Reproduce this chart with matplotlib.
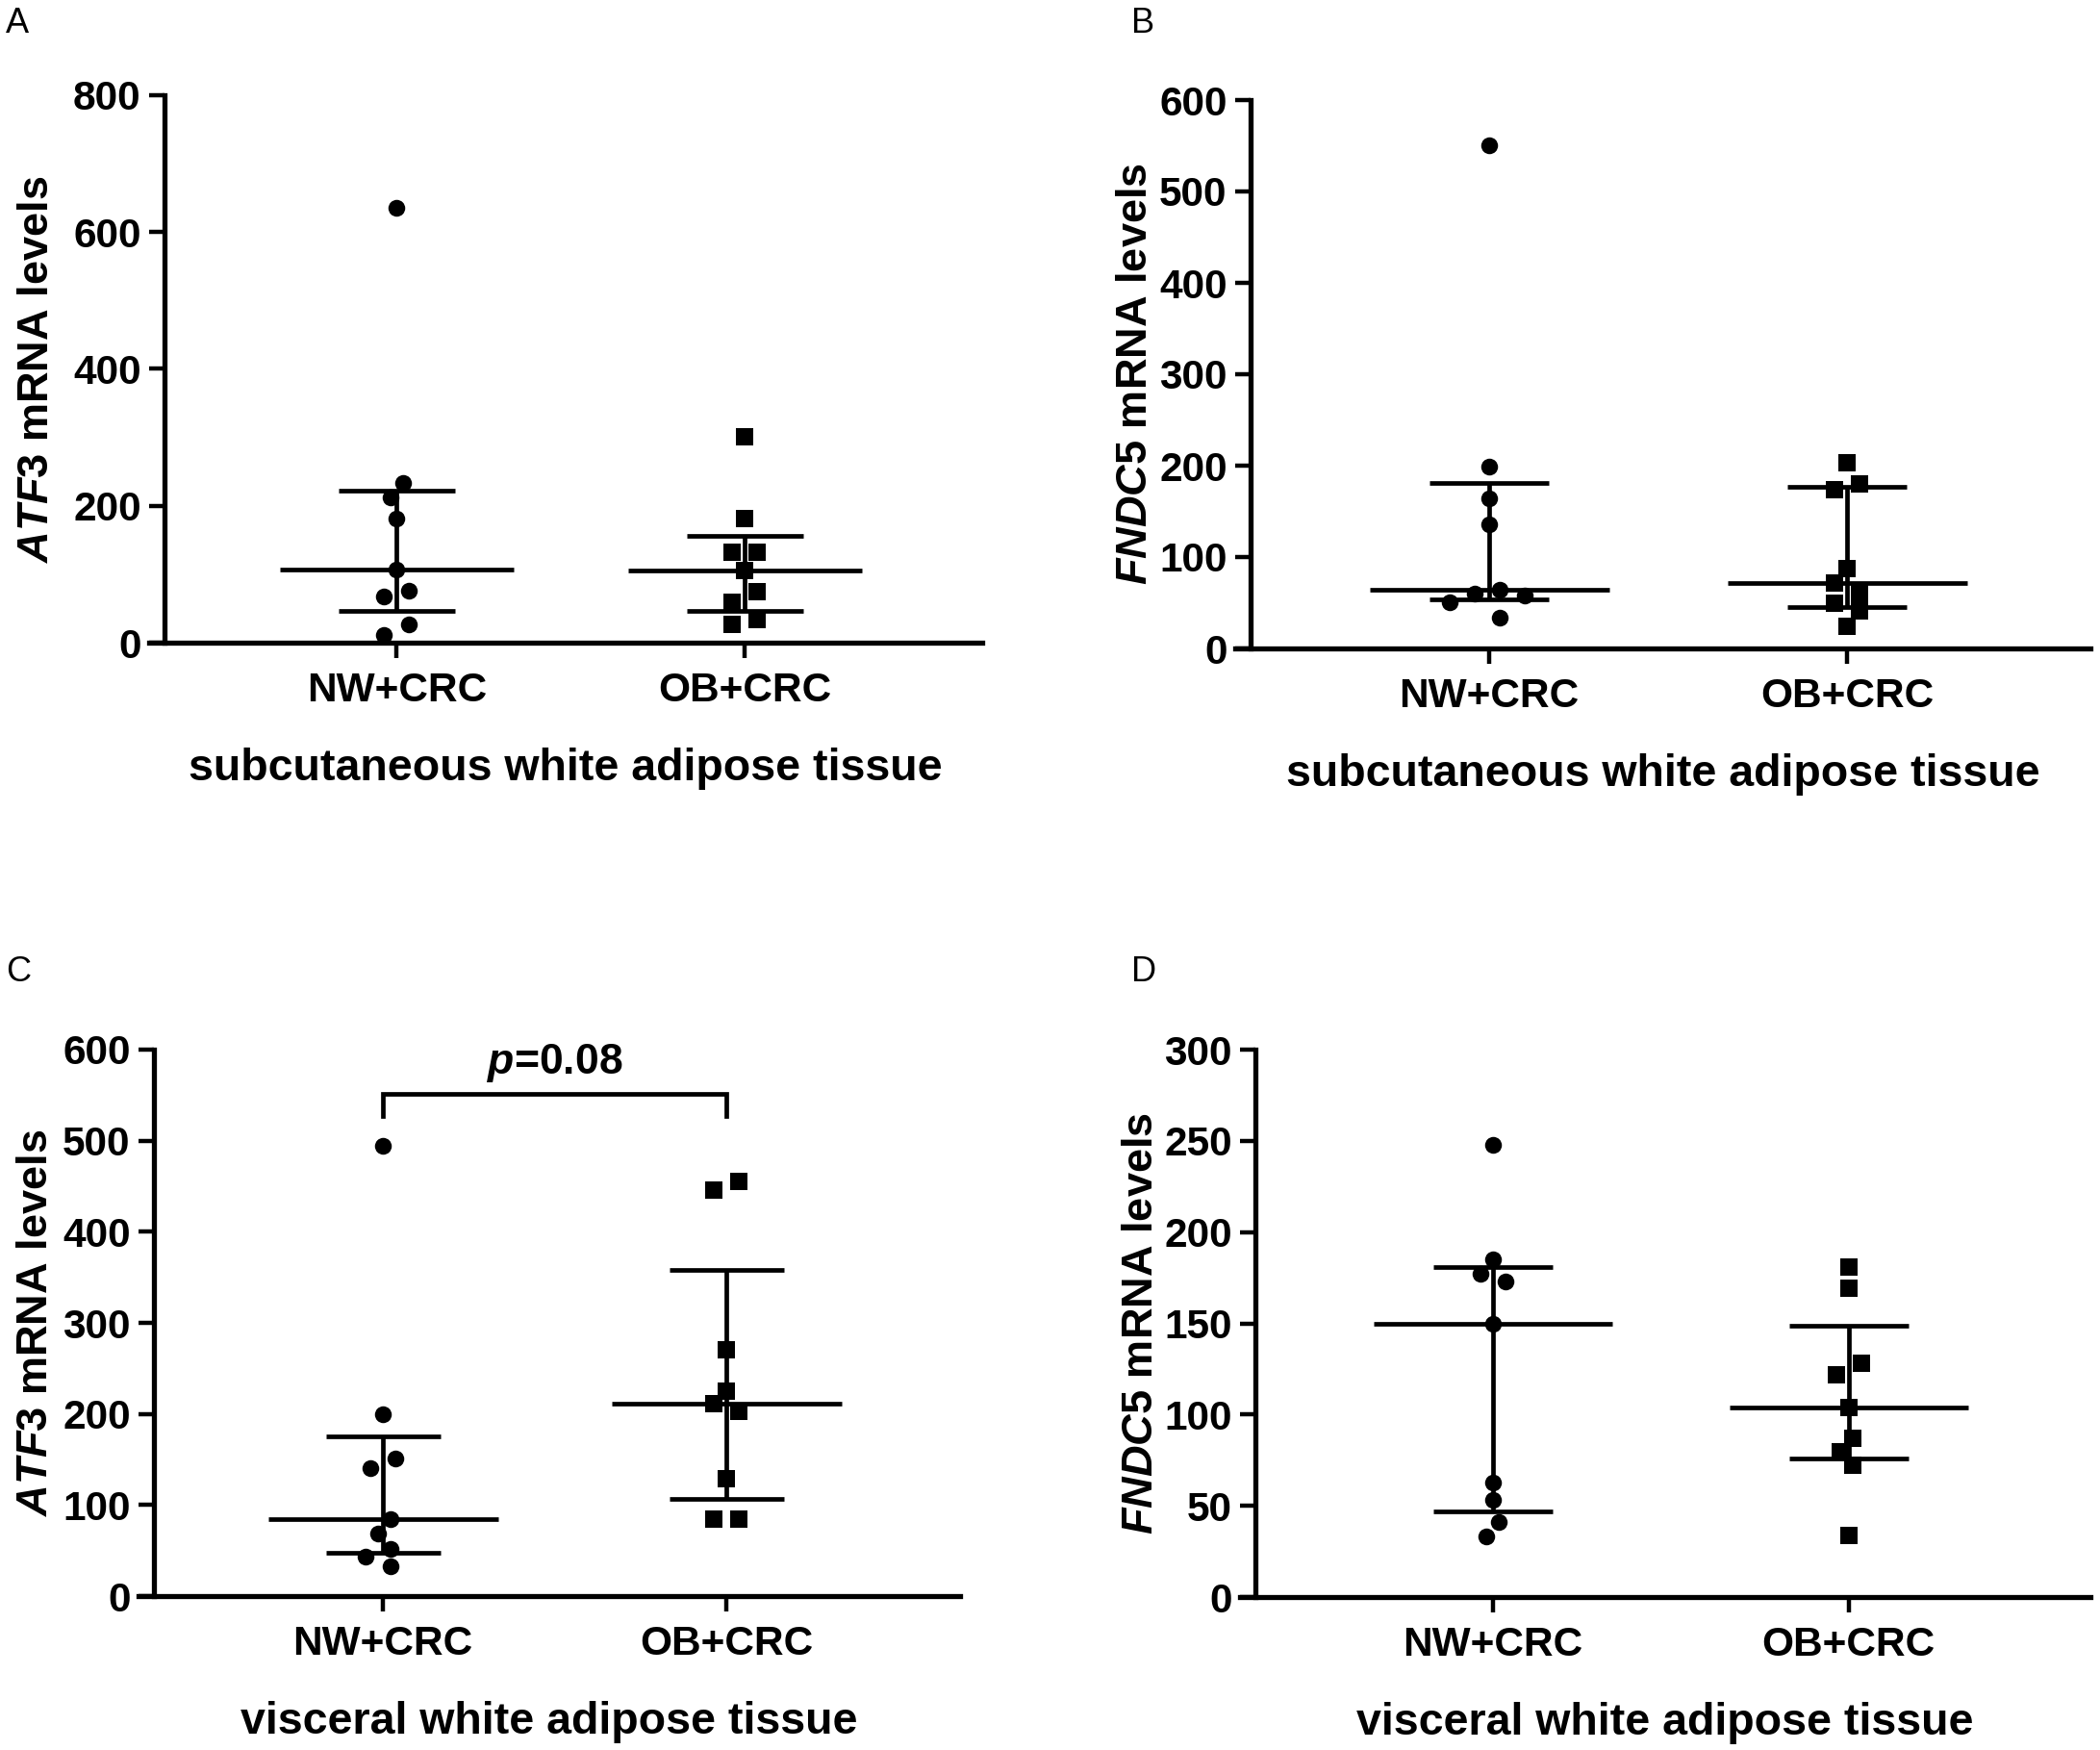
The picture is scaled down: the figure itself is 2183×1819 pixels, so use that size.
import numpy as np
import matplotlib
matplotlib.use("Agg")
import matplotlib.pyplot as plt

plt.rcParams['mathtext.fontset'] = 'custom'
plt.rcParams['mathtext.it'] = 'Liberation Sans:italic:bold'
plt.rcParams['mathtext.rm'] = 'Liberation Sans:bold'
plt.rcParams['mathtext.bf'] = 'Liberation Sans:bold'

FONT = ['Liberation Sans', 'DejaVu Sans']

groups = ["NW+CRC", "OB+CRC"]

# A  ATF3, subcutaneous WAT
atf3_sc_nw = [635, 233, 212, 181, 107, 76, 67, 27, 11]
atf3_sc_ob = [301, 181, 132, 132, 105, 75, 59, 34, 27]
# B  FNDC5, subcutaneous WAT
fndc5_sc_nw = [551, 199, 164, 136, 64, 58, 60, 50, 34]
fndc5_sc_ob = [203, 180, 174, 87, 72, 60, 49, 41, 24]
# C  ATF3, visceral WAT
atf3_vis_nw = [494, 200, 151, 141, 84, 69, 52, 43, 33]
atf3_vis_ob = [455, 446, 270, 225, 211, 203, 129, 84, 84]
# D  FNDC5, visceral WAT
fndc5_vis_nw = [248, 185, 177, 173, 150, 63, 53, 41, 33]
fndc5_vis_ob = [181, 169, 128, 122, 104, 87, 79.5, 72, 34]

p_text_c = "0.08"

W, H = 2183, 1819
fig = plt.figure(figsize=(W / 100, H / 100), dpi=100)

AX_LW = 3.8
LW = 3.4
DIAM = 17.5    # marker size in px
STEP = 13.0    # swarm column step in px


def swarm(vals, unit_px, ypx):
    # greedy beeswarm in discrete columns, then centre each cluster
    vals = np.asarray(vals, float)
    order = np.argsort(-vals, kind="stable")
    ks = np.zeros(len(vals))
    placed = []
    for i in order:
        y = vals[i] * ypx
        for k in [0, -1, 1, -2, 2, -3, 3, -4, 4]:
            x = k * STEP
            if all((x - a) ** 2 + (y - b) ** 2 >= DIAM ** 2 for a, b in placed):
                break
        placed.append((x, y))
        ks[i] = k
    ys = vals[order] * ypx
    start = 0
    for j in range(1, len(order) + 1):
        if j == len(order) or ys[j - 1] - ys[j] >= DIAM:
            idx = order[start:j]
            ks[idx] -= ks[idx].mean()
            start = j
    return ks * STEP / unit_px


def panel(spine_x, unit, top_y, zero_y, ymax, ystep, nw, ob, ylab, xlab,
          letter, letter_xy, ylab_x):
    ext = 16.0 / unit
    x0, x1 = -0.667 - ext, 1.68
    left = spine_x - ext * unit
    width = (x1 - x0) * unit
    ax = fig.add_axes([left / W, 1 - zero_y / H, width / W,
                       (zero_y - top_y) / H])
    ax.set_xlim(x0, x1)
    ax.set_ylim(0, ymax)
    ypx = (zero_y - top_y) / ymax

    for sp in ['top', 'right']:
        ax.spines[sp].set_visible(False)
    ax.spines['left'].set_position(('data', -0.667))
    for sp in ['left', 'bottom']:
        ax.spines[sp].set_linewidth(AX_LW)

    ax.set_yticks(np.arange(0, ymax + 1, ystep))
    ax.set_xticks(np.arange(len(groups)))
    ax.set_xticklabels(groups)
    ax.tick_params(axis='y', length=11.5, width=3.2, pad=6, labelsize=30.5)
    ax.tick_params(axis='x', length=11.5, width=3.2, pad=10, labelsize=30.5)
    for t in ax.get_xticklabels() + ax.get_yticklabels():
        t.set_family(FONT)
        t.set_fontweight('bold')

    for xi, (vals, mk) in enumerate([(nw, 'o'), (ob, 's')]):
        q1, med, q3 = np.percentile(vals, [25, 50, 75], method='weibull')
        ax.plot([xi - 0.335, xi + 0.335], [med, med], color='k', lw=LW,
                solid_capstyle='butt')
        for q in (q1, q3):
            ax.plot([xi - 0.167, xi + 0.167], [q, q], color='k', lw=LW,
                    solid_capstyle='butt')
        ax.plot([xi, xi], [q1, q3], color='k', lw=LW, solid_capstyle='butt')
        ax.plot(xi + swarm(vals, unit, ypx), vals, mk, color='k',
                markersize=12.6, markeredgewidth=0,
                linestyle='none', clip_on=False, zorder=3)

    ax.set_ylabel(ylab, family=FONT, fontweight='bold', fontsize=32.5,
                  va='center')
    ax.yaxis.set_label_coords((ylab_x - left) / width, 0.5)
    ax.set_xlabel(xlab, family=FONT, fontweight='bold', fontsize=33.5,
                  labelpad=28)
    fig.text(letter_xy[0] / W, 1 - letter_xy[1] / H, letter, family=FONT,
             fontsize=26, ha='left', va='top')
    return ax


sc = "subcutaneous white adipose tissue"
vis = "visceral white adipose tissue"

panel(171, 362, 99, 668, 800, 200, atf3_sc_nw, atf3_sc_ob,
      r'$\mathit{ATF3}$ mRNA levels', sc, 'A', (6, 7), 38)
panel(1300, 372, 104, 674, 600, 100, fndc5_sc_nw, fndc5_sc_ob,
      r'$\mathit{FNDC5}$ mRNA levels', sc, 'B', (1176, 7), 1180)
axc = panel(160, 357, 1091, 1659, 600, 100, atf3_vis_nw, atf3_vis_ob,
            r'$\mathit{ATF3}$ mRNA levels', vis, 'C', (6, 993), 38)
panel(1305, 370, 1091, 1660, 300, 50, fndc5_vis_nw, fndc5_vis_ob,
      r'$\mathit{FNDC5}$ mRNA levels', vis, 'D', (1176, 993), 1187)

# significance bracket in C
axc.plot([0, 0, 1, 1], [527, 551, 551, 527], color='k', lw=LW,
         solid_joinstyle='miter', clip_on=False)
axc.text(0.5, 562, r'$\mathit{p}$=' + p_text_c, ha='center', va='bottom',
         family=FONT, fontweight='bold', fontsize=32)

fig.savefig("out.png", dpi=100)
